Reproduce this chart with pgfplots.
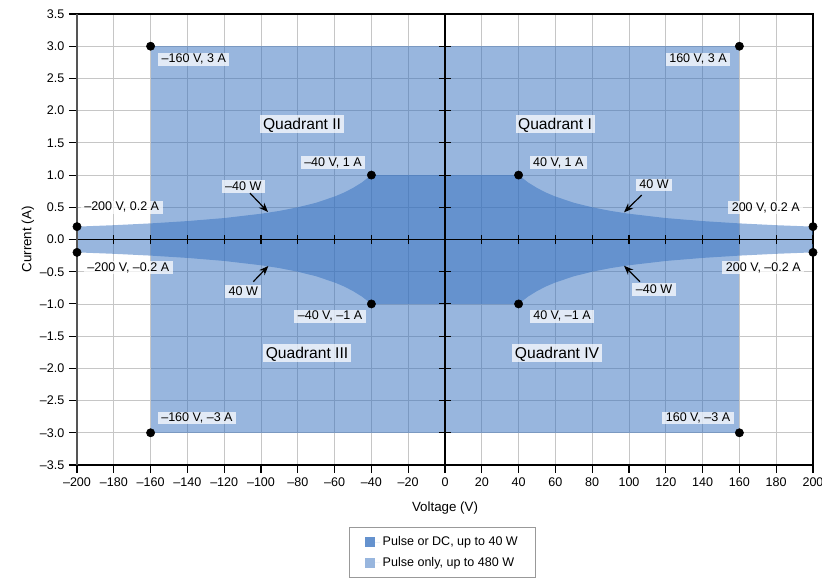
\documentclass[border=0pt]{standalone}
\usepackage{fontspec}
\setmainfont{Liberation Sans}
\usepackage{pgfplots}
\pgfplotsset{compat=1.18}
\usetikzlibrary{arrows.meta}
\definecolor{fillblue}{RGB}{50,110,190}
\definecolor{legdark}{RGB}{101,146,206}
\definecolor{leglight}{RGB}{152,182,222}
\definecolor{gridgray}{RGB}{198,198,198}
\definecolor{leftaxis}{RGB}{85,85,85}

\tikzset{
  lbl/.style={fill=white, fill opacity=0.72, text opacity=1, inner xsep=2.6pt, inner ysep=0.6pt,
    text height=6.9pt, text depth=1.6pt, font=\fontsize{9.4}{11}\selectfont},
  quad/.style={fill=white, fill opacity=0.72, text opacity=1, inner xsep=2pt, inner ysep=2.4pt,
    text height=8.6pt, text depth=0.4pt, font=\fontsize{11.7}{14}\selectfont},
  arr/.style={-{Stealth[length=7pt,width=5.5pt]}, line width=0.9pt, black},
}

\begin{document}
\begin{tikzpicture}
\begin{axis}[
  at={(0,0)}, anchor=south west,
  scale only axis, width=552pt, height=338.25pt,
  xmin=-200, xmax=200, ymin=-3.5, ymax=3.5,
  xtick={-200,-180,...,200},
  xticklabels={–200,–180,–160,–140,–120,–100,–80,–60,–40,–20,0,20,40,60,80,100,120,140,160,180,200},
  ytick={-3.5,-3,-2.5,-2,-1.5,-1,-0.5,0,0.5,1,1.5,2,2.5,3,3.5},
  yticklabels={–3.5,–3.0,–2.5,–2.0,–1.5,–1.0,–0.5,0.0,0.5,1.0,1.5,2.0,2.5,3.0,3.5},
  tick align=outside, xtick pos=left, ytick pos=left,
  major tick length=6pt,
  tick style={black, line width=0.8pt},
  grid=major, grid style={gridgray, line width=0.6pt},
  axis line style={black, line width=0.8pt},
  ticklabel style={font=\fontsize{9.4}{11}\selectfont},
  xlabel={Voltage (V)}, ylabel={Current (A)},
  label style={font=\fontsize{10}{12}\selectfont},
  xlabel style={at={(axis description cs:0.5,-0.0953)}, anchor=center},
  ylabel style={at={(axis description cs:-0.0666,0.5)}, anchor=center},
  clip=false,
  legend style={at={(0.497,-0.1375)}, anchor=north, draw=gray!80, line width=0.6pt,
    fill=white, inner xsep=11.5pt, inner ysep=5pt, row sep=3pt,
    font=\fontsize{9.4}{11}\selectfont},
  legend cell align=left,
  legend image code/.code={\fill[#1] (0pt,-3.75pt) rectangle (7.5pt,3.75pt);
    \path (0pt,0pt) -- (11.25pt,0pt);},
]
% pulse only, up to 480 W
\addplot[draw=none, fill=fillblue, fill opacity=0.5, forget plot]
  coordinates {(-160,-3) (160,-3) (160,3) (-160,3)} -- cycle;
% pulse or DC, up to 40 W
\addplot[draw=none, fill=fillblue, fill opacity=0.5, forget plot] coordinates {
  (-200,0.2) (-180,0.222) (-160,0.25) (-140,0.286) (-120,0.333) (-100,0.4)
  (-90,0.444) (-80,0.5) (-70,0.571) (-60,0.667) (-55,0.727) (-50,0.8)
  (-45,0.889) (-40,1) (40,1) (45,0.889) (50,0.8) (55,0.727) (60,0.667)
  (70,0.571) (80,0.5) (90,0.444) (100,0.4) (120,0.333) (140,0.286)
  (160,0.25) (180,0.222) (200,0.2)
  (200,-0.2) (180,-0.222) (160,-0.25) (140,-0.286) (120,-0.333) (100,-0.4)
  (90,-0.444) (80,-0.5) (70,-0.571) (60,-0.667) (55,-0.727) (50,-0.8)
  (45,-0.889) (40,-1) (-40,-1) (-45,-0.889) (-50,-0.8) (-55,-0.727)
  (-60,-0.667) (-70,-0.571) (-80,-0.5) (-90,-0.444) (-100,-0.4)
  (-120,-0.333) (-140,-0.286) (-160,-0.25) (-180,-0.222) (-200,-0.2)
} -- cycle;

% centre axes with crossing ticks
\draw[black, line width=0.9pt] (axis cs:-200,0) -- (axis cs:200,0);
\draw[black, line width=0.9pt] (axis cs:0,-3.5) -- (axis cs:0,3.5);
\pgfplotsinvokeforeach{-200,-180,...,200}{
  \draw[black, line width=0.8pt] ([yshift=-3.4pt]axis cs:#1,0) -- ([yshift=3.4pt]axis cs:#1,0);
}
\pgfplotsinvokeforeach{-3.5,-3,-2.5,-2,-1.5,-1,-0.5,0.5,1,1.5,2,2.5,3,3.5}{
  \draw[black, line width=0.8pt] ([xshift=-4.5pt]axis cs:0,#1) -- ([xshift=4.5pt]axis cs:0,#1);
}
\draw[leftaxis, line width=1.4pt] (axis cs:-200,-3.5) -- (axis cs:-200,3.5);

% corner points
\addplot[only marks, mark=*, mark size=3.1pt, black, forget plot] coordinates {
  (-160,3) (160,3) (-40,1) (40,1) (-200,0.2) (200,0.2)
  (-200,-0.2) (200,-0.2) (-40,-1) (40,-1) (-160,-3) (160,-3)
};

% labels
\node[lbl] at (axis cs:-136.5,2.80) {–160 V, 3 A};
\node[lbl] at (axis cs:137.5,2.80) {160 V, 3 A};
\node[lbl] at (axis cs:-60.9,1.19) {–40 V, 1 A};
\node[lbl] at (axis cs:61.6,1.19) {40 V, 1 A};
\node[lbl] at (axis cs:-175.7,0.50) {–200 V, 0.2 A};
\node[lbl] at (axis cs:174.3,0.49) {200 V, 0.2 A};
\node[lbl] at (axis cs:-172.1,-0.44) {–200 V, –0.2 A};
\node[lbl] at (axis cs:173,-0.44) {200 V, –0.2 A};
\node[lbl] at (axis cs:-62.5,-1.19) {–40 V, –1 A};
\node[lbl] at (axis cs:63.6,-1.19) {40 V, –1 A};
\node[lbl] at (axis cs:-134.8,-2.77) {–160 V, –3 A};
\node[lbl] at (axis cs:137.5,-2.77) {160 V, –3 A};

\node[quad] at (axis cs:-77.7,1.79) {Quadrant II};
\node[quad] at (axis cs:59.8,1.79) {Quadrant I};
\node[quad] at (axis cs:-75,-1.76) {Quadrant III};
\node[quad] at (axis cs:60.9,-1.76) {Quadrant IV};

% power labels and arrows
\node[lbl] at (axis cs:-109.6,0.82) {–40 W};
\node[lbl] at (axis cs:-109.6,-0.81) {40 W};
\node[lbl] at (axis cs:113.6,0.846) {40 W};
\node[lbl] at (axis cs:113.6,-0.78) {–40 W};
\draw[arr] (axis cs:-106,0.72) -- (axis cs:-96.2,0.427);
\draw[arr] (axis cs:-104.2,-0.655) -- (axis cs:-96,-0.411);
\draw[arr] (axis cs:106.9,0.69) -- (axis cs:97.3,0.422);
\draw[arr] (axis cs:106,-0.655) -- (axis cs:97.3,-0.407);

\addlegendimage{fill=legdark, draw=none}
\addlegendentry{Pulse or DC, up to 40 W\hspace{15pt}}
\addlegendimage{fill=leglight, draw=none}
\addlegendentry{Pulse only, up to 480 W\hspace{15pt}}
\end{axis}
\pgfresetboundingbox
\useasboundingbox (-57.75pt,-84.75pt) rectangle (558.75pt,348.75pt);
\end{tikzpicture}
\end{document}
